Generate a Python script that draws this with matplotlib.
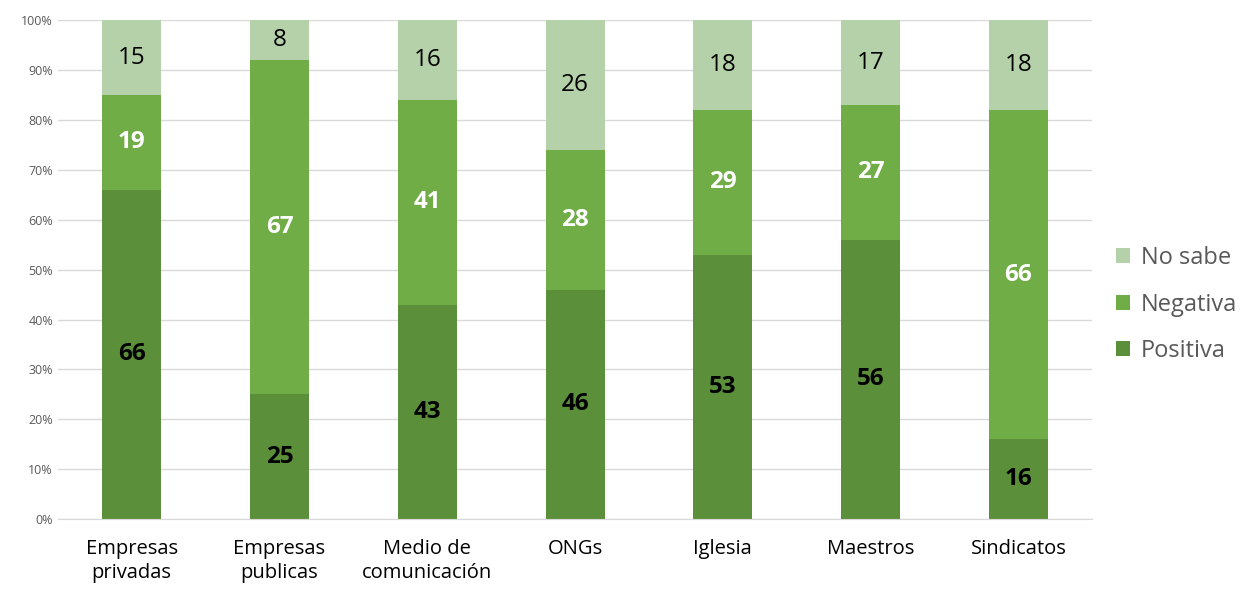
import numpy as np
import matplotlib.pyplot as plt
from matplotlib.ticker import PercentFormatter

plt.rcParams['font.family'] = ['Open Sans', 'DejaVu Sans']

categories = ["Empresas\nprivadas", "Empresas\npublicas", "Medio de\ncomunicación",
              "ONGs", "Iglesia", "Maestros", "Sindicatos"]
positiva = [66, 25, 43, 46, 53, 56, 16]
negativa = [19, 67, 41, 28, 29, 27, 66]
no_sabe = [15, 8, 16, 26, 18, 17, 18]

c_pos = '#5B8F3A'
c_neg = '#70AD47'
c_ns = '#B5D1A9'

fig = plt.figure(figsize=(12.57, 5.94), dpi=100)
ax = fig.add_axes([0.046, 0.126, 0.823, 0.840])

x = np.arange(len(categories))
w = 0.4
pos = np.array(positiva)
neg = np.array(negativa)
ns = np.array(no_sabe)

b1 = ax.bar(x, pos, w, color=c_pos, label='Positiva', zorder=2)
b2 = ax.bar(x, neg, w, bottom=pos, color=c_neg, label='Negativa', zorder=2)
b3 = ax.bar(x, ns, w, bottom=pos + neg, color=c_ns, label='No sabe', zorder=2)

for i in range(len(x)):
    ax.text(x[i], pos[i] / 2, str(pos[i]), ha='center', va='center',
            fontsize=17.5, fontweight='bold', color='black')
    ax.text(x[i], pos[i] + neg[i] / 2, str(neg[i]), ha='center', va='center',
            fontsize=17.5, fontweight='bold', color='white')
    ax.text(x[i], pos[i] + neg[i] + ns[i] / 2, str(ns[i]), ha='center', va='center',
            fontsize=17.5, color='black')

ax.set_xlim(-0.5, 6.5)
ax.set_ylim(0, 100)
ax.set_yticks(np.arange(0, 101, 10))
ax.yaxis.set_major_formatter(PercentFormatter(decimals=0))
ax.set_xticks(x)
ax.set_xticklabels(categories, fontsize=14.5, linespacing=1.3)
ax.tick_params(axis='y', labelsize=9, colors='#595959', length=0)
ax.tick_params(axis='x', length=0, pad=14)
ax.grid(axis='y', color='#D9D9D9', linewidth=1, zorder=0)
for s in ['top', 'right', 'left']:
    ax.spines[s].set_visible(False)
ax.spines['bottom'].set_color('#D9D9D9')

handles = [b3, b2, b1]
leg = ax.legend(handles, ['No sabe', 'Negativa', 'Positiva'], loc='center left',
                bbox_to_anchor=(1.0, 0.43), frameon=False, fontsize=17,
                handlelength=0.6, handleheight=0.6, handletextpad=0.45,
                labelspacing=0.95, borderaxespad=0.6)
for t in leg.get_texts():
    t.set_color('#595959')

fig.savefig('out.png', dpi=100)
